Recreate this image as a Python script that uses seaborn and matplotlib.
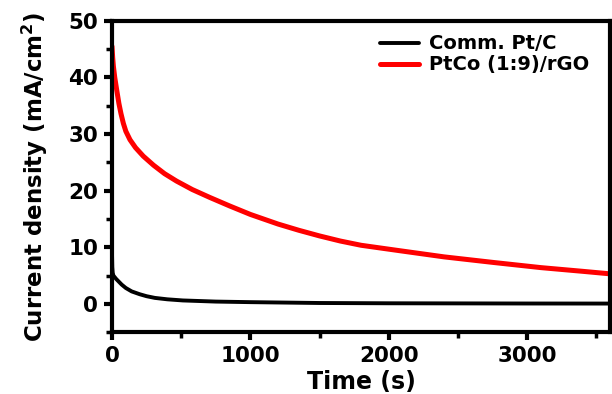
import matplotlib
matplotlib.use("Agg")
import matplotlib.pyplot as plt
import seaborn as sns
import pandas as pd
from matplotlib.ticker import MultipleLocator

red_t = [0, 5, 10, 20, 34, 50, 65, 82, 100, 130, 170, 226, 300, 380, 466, 580,
         707, 850, 1000, 1200, 1350, 1500, 1650, 1800, 2076, 2400, 2761, 3100,
         3400, 3600]
red_j = [45.5, 43.5, 42.0, 40.0, 37.8, 35.4, 33.6, 31.9, 30.5, 29.0, 27.6, 26.1,
         24.5, 23.0, 21.7, 20.2, 18.8, 17.3, 15.8, 14.1, 13.0, 12.0, 11.1, 10.35,
         9.4, 8.3, 7.3, 6.4, 5.75, 5.3]
blk_t = [0, 2, 5, 10, 20, 30, 46, 70, 100, 142, 200, 250, 310, 400, 512, 750,
         1000, 1500, 2000, 2500, 3000, 3600]
blk_j = [9.0, 6.5, 5.5, 5.0, 4.7, 4.4, 4.0, 3.4, 2.8, 2.2, 1.7, 1.35, 1.05, 0.8,
         0.6, 0.4, 0.3, 0.15, 0.1, 0.08, 0.06, 0.05]
labels = ["Comm. Pt/C", "PtCo (1:9)/rGO"]

df = pd.concat([
    pd.DataFrame({"t": blk_t, "j": blk_j, "s": labels[0]}),
    pd.DataFrame({"t": red_t, "j": red_j, "s": labels[1]}),
])

sns.set_style("ticks")
plt.rcParams["font.family"] = ["DejaVu Sans"]
plt.rcParams["font.weight"] = "bold"
plt.rcParams["mathtext.default"] = "bf"
for k in ["text.color", "axes.labelcolor", "xtick.color", "ytick.color", "axes.edgecolor"]:
    plt.rcParams[k] = "black"

fig = plt.figure(figsize=(6.12, 3.94), dpi=100)
ax = fig.add_axes([0.183, 0.157, 0.814, 0.79])
sns.lineplot(data=df, x="t", y="j", hue="s", palette=["black", "red"],
             ax=ax, estimator=None, sort=False)
for line, lw in zip(ax.get_lines(), [2.8, 3.6]):
    line.set_linewidth(lw)
    line.set_solid_joinstyle("round")

ax.set_xlim(0, 3600)
ax.set_ylim(-5, 50)
ax.xaxis.set_major_locator(MultipleLocator(1000))
ax.xaxis.set_minor_locator(MultipleLocator(500))
ax.yaxis.set_major_locator(MultipleLocator(10))
ax.yaxis.set_minor_locator(MultipleLocator(5))
for sp in ax.spines.values():
    sp.set_linewidth(3)
    sp.set_visible(True)
    sp.set_color("black")
ax.tick_params(which="major", direction="out", length=6, width=3,
               labelsize=15.5, pad=4, colors="black")
ax.tick_params(which="minor", direction="out", length=4, width=2.5, colors="black")
for lab in ax.get_xticklabels() + ax.get_yticklabels():
    lab.set_fontweight("bold")
ax.set_xlabel("Time (s)", fontsize=17, fontweight="bold", labelpad=3)
ax.set_ylabel("Current density (mA/cm$^2$)", fontsize=16.5, fontweight="bold", labelpad=13)

leg = ax.legend(loc="upper right", frameon=False, handlelength=2.0,
                handletextpad=0.5, borderaxespad=0.3, labelspacing=0.1,
                bbox_to_anchor=(0.985, 1.0),
                prop={"weight": "bold", "size": 14})
for h, lw in zip(leg.get_lines(), [2.8, 3.6]):
    h.set_linewidth(lw)

fig.savefig("out.png", dpi=100)
